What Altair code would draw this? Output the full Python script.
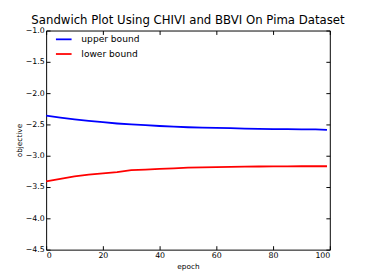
import altair as alt
import pandas as pd

epochs = [0, 5, 10, 15, 20, 25, 30, 35, 40, 45, 50, 55, 60, 65, 70, 75, 80, 85, 90, 95, 99]
upper = [-2.36, -2.39, -2.42, -2.445, -2.465, -2.485, -2.50, -2.51, -2.525, -2.535, -2.545,
         -2.55, -2.555, -2.56, -2.565, -2.57, -2.575, -2.575, -2.58, -2.58, -2.585]
lower = [-3.41, -3.37, -3.33, -3.30, -3.28, -3.26, -3.23, -3.22, -3.21, -3.20, -3.19,
         -3.185, -3.18, -3.178, -3.175, -3.172, -3.17, -3.17, -3.168, -3.168, -3.168]
series = ["upper bound", "lower bound"]
colors = ["#0000ff", "#ff0000"]
x_ticks = [0, 20, 40, 60, 80, 100]
y_ticks = [-4.5, -4.0, -3.5, -3.0, -2.5, -2.0, -1.5, -1.0]

rows = []
for e, u in zip(epochs, upper):
    rows.append({"epoch": e, "objective": u, "series": series[0]})
for e, l in zip(epochs, lower):
    rows.append({"epoch": e, "objective": l, "series": series[1]})
df = pd.DataFrame(rows)

font = "DejaVu Sans"
xscale = alt.Scale(domain=[0, 100], nice=False)
yscale = alt.Scale(domain=[-4.5, -1.0], nice=False, zero=False)

common_axis = dict(offset=-4, tickSize=4, domain=False, grid=False, tickColor="black",
                   labelColor="black", labelFont=font, labelFontSize=8, titleFont=font,
                   titleFontSize=7.5, titleFontWeight="normal", titleColor="black",
                   titleBaseline="middle", labelPadding=2)

main = alt.Chart(df).mark_line(strokeWidth=1.8).encode(
    x=alt.X("epoch:Q", scale=xscale,
            axis=alt.Axis(values=x_ticks, format="d", title="epoch", orient="bottom",
                          titleX=145, titleY=21, **common_axis)),
    y=alt.Y("objective:Q", scale=yscale,
            axis=alt.Axis(values=y_ticks, format=".1f", title="objective", orient="left",
                          titleX=-31, titleY=112, **common_axis)),
    color=alt.Color("series:N", sort=series,
                    scale=alt.Scale(domain=series, range=colors),
                    legend=alt.Legend(title=None, orient="none", legendX=9, legendY=0,
                                      symbolType="stroke", symbolSize=256, symbolStrokeWidth=1.8,
                                      labelFont=font, labelFontSize=9.3, labelColor="black",
                                      rowPadding=0, labelOffset=9)),
)

frame_axis = dict(offset=-4, tickSize=4, domain=False, grid=False, tickColor="black",
                  labels=False, title=None)
ghost = alt.Chart(df).mark_line(opacity=0).encode(
    x=alt.X("epoch:Q", scale=xscale, axis=alt.Axis(values=x_ticks, orient="top", **frame_axis)),
    y=alt.Y("objective:Q", scale=yscale, axis=alt.Axis(values=y_ticks, orient="right", **frame_axis)),
    detail="series:N",
)

chart = alt.layer(main, ghost).resolve_axis(x="independent", y="independent").properties(
    width=290, height=224,
    autosize=alt.AutoSizeParams(type="none"),
    padding={"left": 39, "top": 20, "right": 37, "bottom": 28},
    title=alt.Title("Sandwich Plot Using CHIVI and BBVI On Pima Dataset", font=font,
                    fontSize=12, fontWeight="normal", color="black", offset=0,
                    anchor="middle"),
).configure_view(stroke="black", strokeWidth=1)

chart.save("out.html", embed_options={"renderer": "svg", "actions": False})
